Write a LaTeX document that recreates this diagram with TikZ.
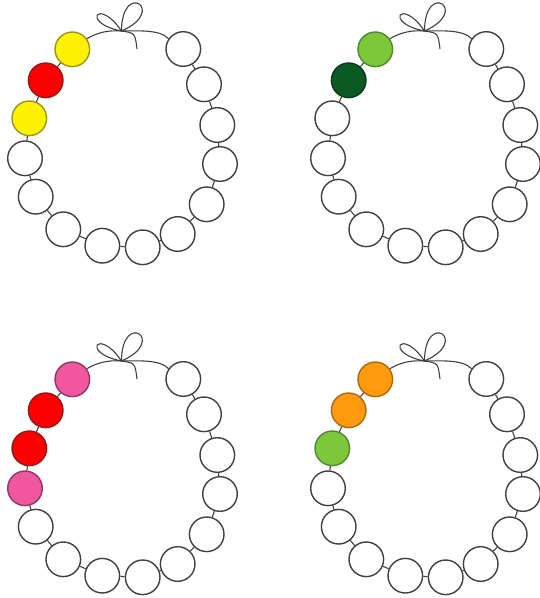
\documentclass[tikz,border=0pt]{standalone}
\definecolor{yelF}{HTML}{FFF200}\definecolor{yelD}{HTML}{9C9420}
\definecolor{redF}{HTML}{FF0000}\definecolor{redD}{HTML}{8E1A1A}
\definecolor{pinkF}{HTML}{F0579F}\definecolor{pinkD}{HTML}{8A3A62}
\definecolor{lgF}{HTML}{7DC83A}\definecolor{lgD}{HTML}{4B8A2A}
\definecolor{dgF}{HTML}{0B5A24}\definecolor{dgD}{HTML}{063A16}
\definecolor{orF}{HTML}{FF9A0C}\definecolor{orD}{HTML}{B0680F}
\definecolor{lineG}{HTML}{404040}
\tikzset{
  bead/.style={circle, draw=lineG, fill=white, minimum size=34.6pt, inner sep=0pt, line width=1.4pt},
  bW/.style={},
  bY/.style={fill=yelF, draw=yelD},
  bR/.style={fill=redF, draw=redD},
  bP/.style={fill=pinkF, draw=pinkD},
  bL/.style={fill=lgF, draw=lgD},
  bD/.style={fill=dgF, draw=dgD},
  bO/.style={fill=orF, draw=orD},
  thread/.style={draw=lineG, line width=1.1pt},
}
\def\bxs{{72.3,45.7,29.3,25,35.7,63.3,102.3,142.7,177.7,206.7,220,217.3,204,183.3}}
\def\bys{{49.3,80.3,118.3,158.3,196.7,229.3,245.7,247.3,234,204.3,164,125,84.3,49}}
\newcommand\necklace[3]{%
\begin{scope}[shift={#2}]
  \foreach \c [count=\i] in {#3} {
    \pgfmathsetmacro\px{\bxs[\i-1]}
    \pgfmathsetmacro\py{\bys[\i-1]}
    \node[bead, b\c] (#1-\i) at (\px,\py) {};
  }
  \foreach \i [evaluate=\i as \j using int(\i+1)] in {1,...,13}
    \draw[thread] (#1-\i) -- (#1-\j);
  \coordinate (#1-k) at (121.5,31);
  \coordinate (#1-t) at (137,49);
  \draw[thread] (#1-1.36) .. controls (98,32) and (110,30) .. (#1-k)
     .. controls (135,31) and (160,29) .. (#1-14.145);
  \draw[thread] (#1-k) .. controls (98,-3.6) and (80.2,23) .. (#1-k);
  \draw[thread] (#1-k) .. controls (121.7,-20.5) and (168.3,10.5) .. (#1-k);
  \draw[thread] (#1-k) .. controls (135,33) .. (#1-t);
\end{scope}}
\begin{document}
\begin{tikzpicture}[x=1pt,y=-1pt]
\useasboundingbox (0,0) rectangle (540,598);
\necklace{a}{(0,0)}{Y,R,Y,W,W,W,W,W,W,W,W,W,W,W}
\necklace{b}{(303,0)}{L,D,W,W,W,W,W,W,W,W,W,W,W,W}
\necklace{c}{(0,330)}{P,R,R,P,W,W,W,W,W,W,W,W,W,W}
\necklace{d}{(303,330)}{O,O,L,W,W,W,W,W,W,W,W,W,W,W}
\end{tikzpicture}
\end{document}
